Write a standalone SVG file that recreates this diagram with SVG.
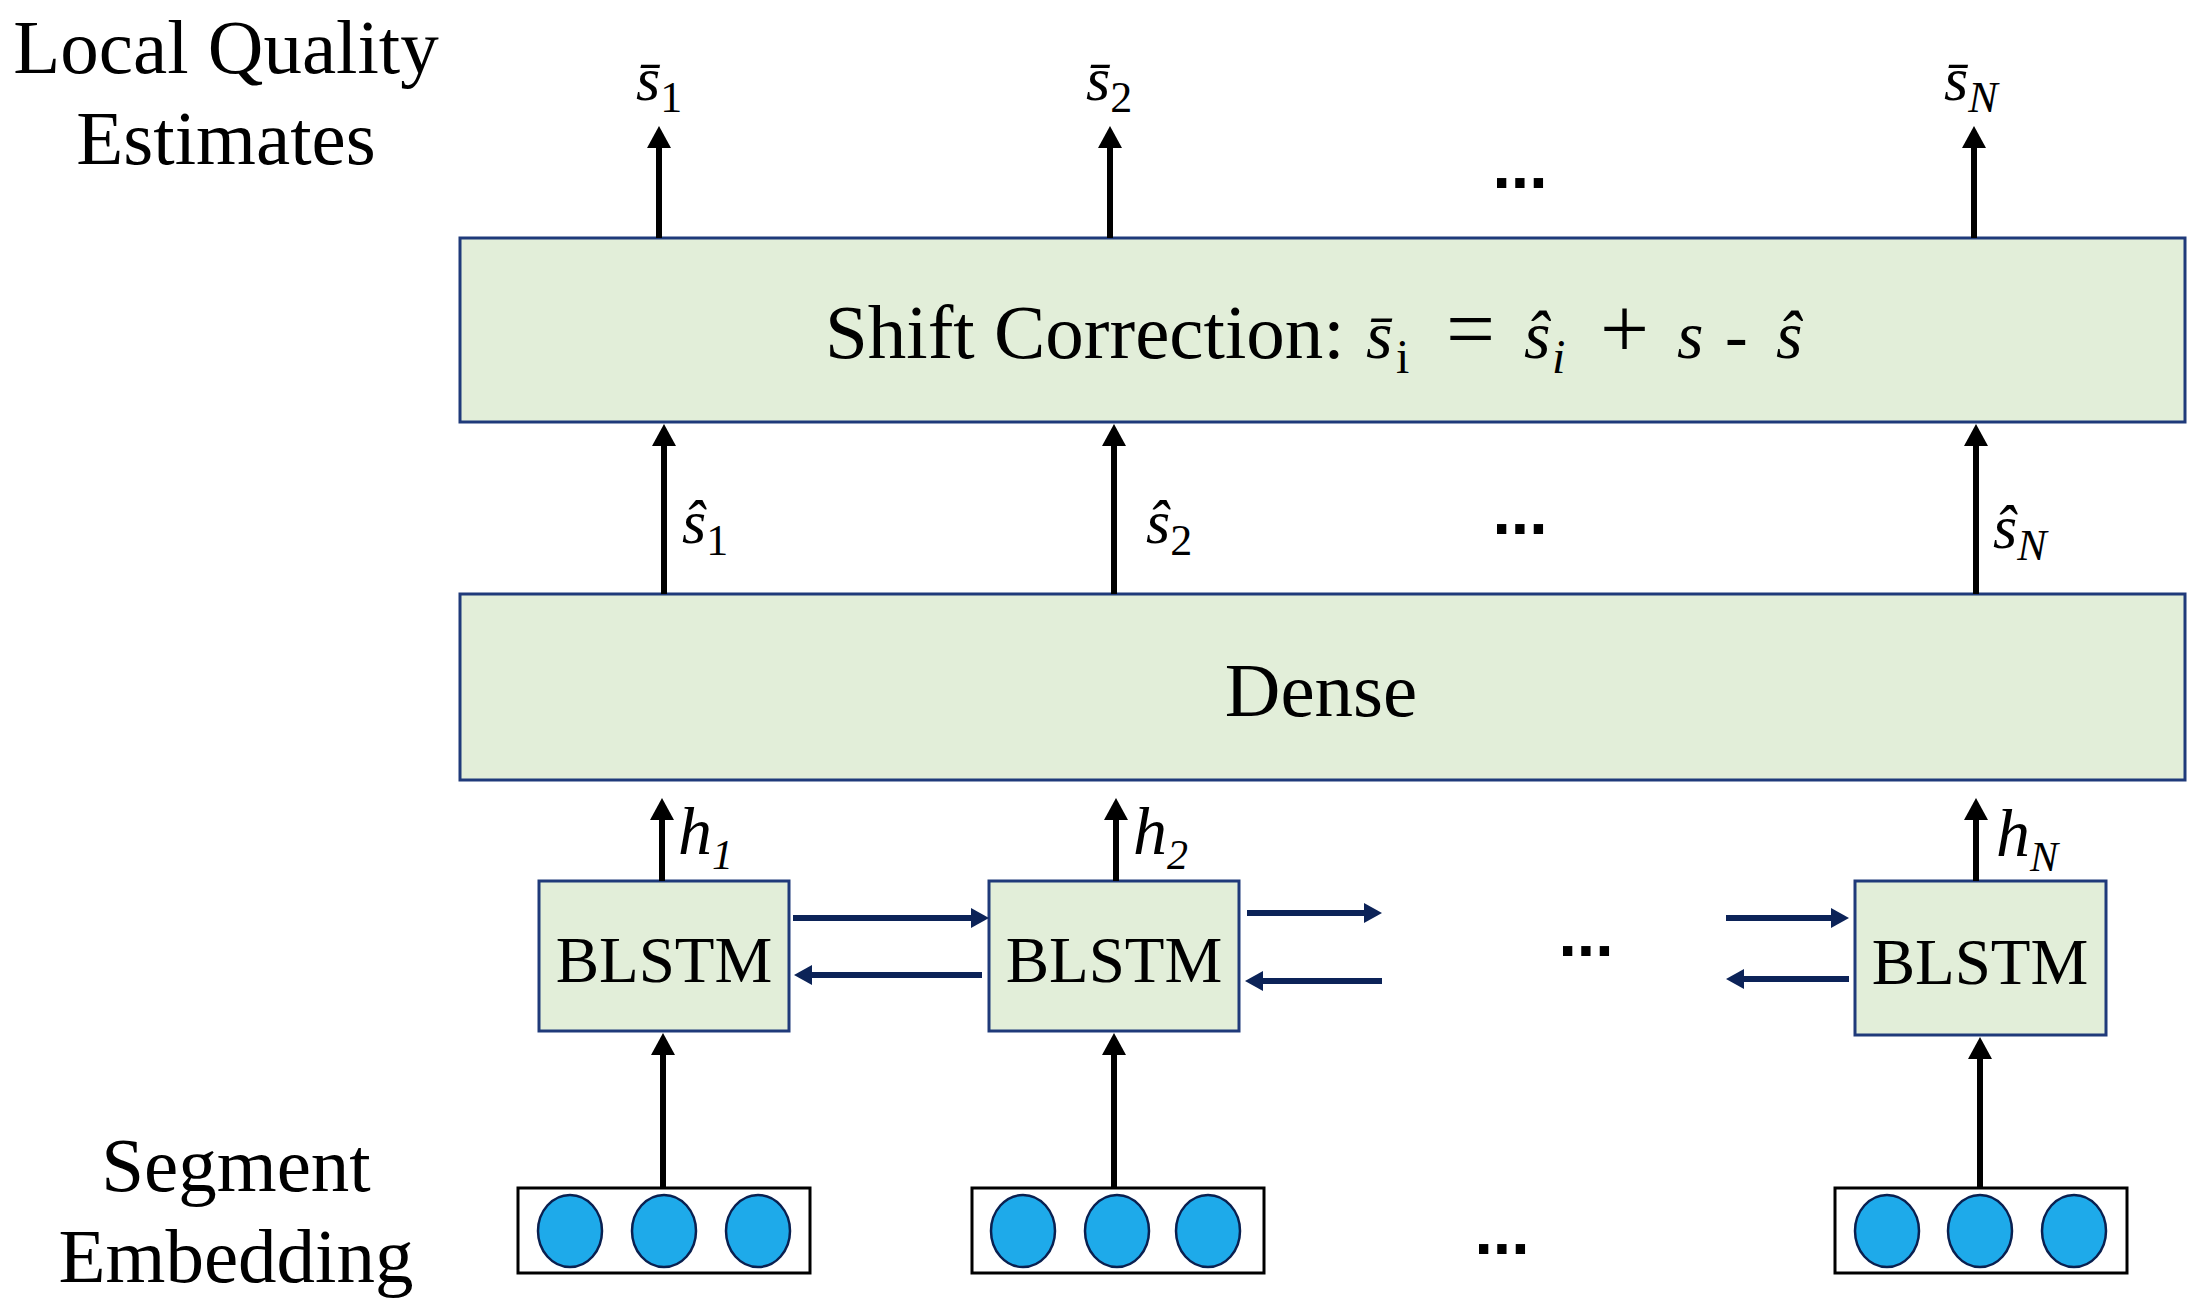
<svg xmlns="http://www.w3.org/2000/svg" width="2200" height="1313" viewBox="0 0 2200 1313">
<style>
.box{fill:#e2eed9;stroke:#1f3a7a;stroke-width:3}
.emb{fill:#ffffff;stroke:#000;stroke-width:3}
.dot{fill:#1eaaea;stroke:#0a2050;stroke-width:2.5}
.t{font-family:"Liberation Serif","Times New Roman",serif;fill:#000}
.big{font-size:77px}
.bl{font-size:65px}
.m{font-size:62px}
.it{font-style:italic}
.sub{font-size:44px}
.hl{font-size:68px;font-style:italic}
.hs{font-size:42px}
.ell{font-family:"Liberation Sans",Arial,sans-serif;font-weight:bold;font-size:66px;fill:#000}
.ka{stroke:#000;stroke-width:6;fill:none}
.na{stroke:#0c2358;stroke-width:6;fill:none}
</style>
<defs>
<marker id="ah" markerUnits="userSpaceOnUse" markerWidth="22" markerHeight="24" viewBox="0 0 22 24" refX="1" refY="12" orient="auto"><path d="M0,0 L22,12 L0,24 z" fill="#000"/></marker>
<marker id="nh" markerUnits="userSpaceOnUse" markerWidth="18" markerHeight="20" viewBox="0 0 18 20" refX="1" refY="10" orient="auto"><path d="M0,0 L18,10 L0,20 z" fill="#0c2358"/></marker>
</defs>
<rect width="2200" height="1313" fill="#fff"/>

<g id="title-top">
<text class="t big" x="226" y="73" text-anchor="middle">Local Quality</text>
<text class="t big" x="226" y="164" text-anchor="middle">Estimates</text>
</g>
<g id="title-bottom">
<text class="t big" x="236" y="1191" text-anchor="middle">Segment</text>
<text class="t big" x="236" y="1282" text-anchor="middle">Embedding</text>
</g>

<g id="shift">
<rect class="box" x="460" y="238" width="1725" height="184"/>
<text class="t big" y="358"><tspan x="825">Shift Correction:</tspan><tspan class="it" font-size="68" x="1366">s̄</tspan><tspan font-size="48" x="1396" dy="15">i</tspan><tspan font-size="87" x="1446" dy="-15">=</tspan><tspan class="it" font-size="68" x="1524">ŝ</tspan><tspan class="it" font-size="48" x="1552" dy="15">i</tspan><tspan font-size="87" x="1600" dy="-15">+</tspan><tspan class="it" font-size="68" x="1677">s</tspan><tspan font-size="68" x="1725">-</tspan><tspan class="it" font-size="68" x="1776">ŝ</tspan></text>
</g>

<g id="dense">
<rect class="box" x="460" y="594" width="1725" height="186"/>
<text class="t big" x="1321" y="716" text-anchor="middle">Dense</text>
</g>

<g id="blstm1">
<rect class="box" x="539" y="881" width="250" height="150"/>
<text class="t bl" x="664" y="982" text-anchor="middle">BLSTM</text>
</g>
<g id="blstm2">
<rect class="box" x="989" y="881" width="250" height="150"/>
<text class="t bl" x="1114" y="982" text-anchor="middle">BLSTM</text>
</g>
<g id="blstmN">
<rect class="box" x="1855" y="881" width="251" height="154"/>
<text class="t bl" x="1980" y="984" text-anchor="middle">BLSTM</text>
</g>

<g id="emb1">
<rect class="emb" x="518" y="1188" width="292" height="85"/>
<ellipse class="dot" cx="570" cy="1231" rx="32" ry="36"/>
<ellipse class="dot" cx="664" cy="1231" rx="32" ry="36"/>
<ellipse class="dot" cx="758" cy="1231" rx="32" ry="36"/>
</g>
<g id="emb2">
<rect class="emb" x="972" y="1188" width="292" height="85"/>
<ellipse class="dot" cx="1023" cy="1231" rx="32" ry="36"/>
<ellipse class="dot" cx="1117" cy="1231" rx="32" ry="36"/>
<ellipse class="dot" cx="1208" cy="1231" rx="32" ry="36"/>
</g>
<g id="embN">
<rect class="emb" x="1835" y="1188" width="292" height="85"/>
<ellipse class="dot" cx="1887" cy="1231" rx="32" ry="36"/>
<ellipse class="dot" cx="1980" cy="1231" rx="32" ry="36"/>
<ellipse class="dot" cx="2074" cy="1231" rx="32" ry="36"/>
</g>

<g id="connectors">
<line class="ka" x1="659" y1="238" x2="659" y2="147" marker-end="url(#ah)"/>
<line class="ka" x1="1110" y1="238" x2="1110" y2="147" marker-end="url(#ah)"/>
<line class="ka" x1="1974" y1="238" x2="1974" y2="147" marker-end="url(#ah)"/>
<line class="ka" x1="664" y1="594" x2="664" y2="445" marker-end="url(#ah)"/>
<line class="ka" x1="1114" y1="594" x2="1114" y2="445" marker-end="url(#ah)"/>
<line class="ka" x1="1976" y1="594" x2="1976" y2="445" marker-end="url(#ah)"/>
<line class="ka" x1="662" y1="881" x2="662" y2="819" marker-end="url(#ah)"/>
<line class="ka" x1="1116" y1="881" x2="1116" y2="819" marker-end="url(#ah)"/>
<line class="ka" x1="1976" y1="881" x2="1976" y2="819" marker-end="url(#ah)"/>
<line class="ka" x1="663" y1="1188" x2="663" y2="1054" marker-end="url(#ah)"/>
<line class="ka" x1="1114" y1="1188" x2="1114" y2="1054" marker-end="url(#ah)"/>
<line class="ka" x1="1980" y1="1188" x2="1980" y2="1058" marker-end="url(#ah)"/>
<line class="na" x1="793" y1="918" x2="972" y2="918" marker-end="url(#nh)"/>
<line class="na" x1="982" y1="975" x2="811" y2="975" marker-end="url(#nh)"/>
<line class="na" x1="1247" y1="913" x2="1365" y2="913" marker-end="url(#nh)"/>
<line class="na" x1="1382" y1="981" x2="1262" y2="981" marker-end="url(#nh)"/>
<line class="na" x1="1726" y1="918" x2="1832" y2="918" marker-end="url(#nh)"/>
<line class="na" x1="1849" y1="979" x2="1743" y2="979" marker-end="url(#nh)"/>
</g>

<g id="labels">
<text class="t m" x="636" y="100"><tspan class="it">s̄</tspan><tspan class="sub" dy="12">1</tspan></text>
<text class="t m" x="1086" y="100"><tspan class="it">s̄</tspan><tspan class="sub" dy="12">2</tspan></text>
<text class="t m" x="1944" y="100"><tspan class="it">s̄</tspan><tspan class="sub it" dy="12">N</tspan></text>
<text class="t m" x="682" y="543"><tspan class="it">ŝ</tspan><tspan class="sub" dy="12">1</tspan></text>
<text class="t m" x="1146" y="543"><tspan class="it">ŝ</tspan><tspan class="sub" dy="12">2</tspan></text>
<text class="t m" x="1993" y="548"><tspan class="it">ŝ</tspan><tspan class="sub it" dy="12">N</tspan></text>
<text class="t hl" x="678" y="854">h<tspan class="hs" dy="15">1</tspan></text>
<text class="t hl" x="1133" y="854">h<tspan class="hs" dy="15">2</tspan></text>
<text class="t hl" x="1996" y="856">h<tspan class="hs" dy="15">N</tspan></text>
<text class="ell" x="1520" y="188" text-anchor="middle">...</text>
<text class="ell" x="1520" y="534" text-anchor="middle">...</text>
<text class="ell" x="1586" y="956" text-anchor="middle">...</text>
<text class="ell" x="1502" y="1254" text-anchor="middle">...</text>
</g>
</svg>
